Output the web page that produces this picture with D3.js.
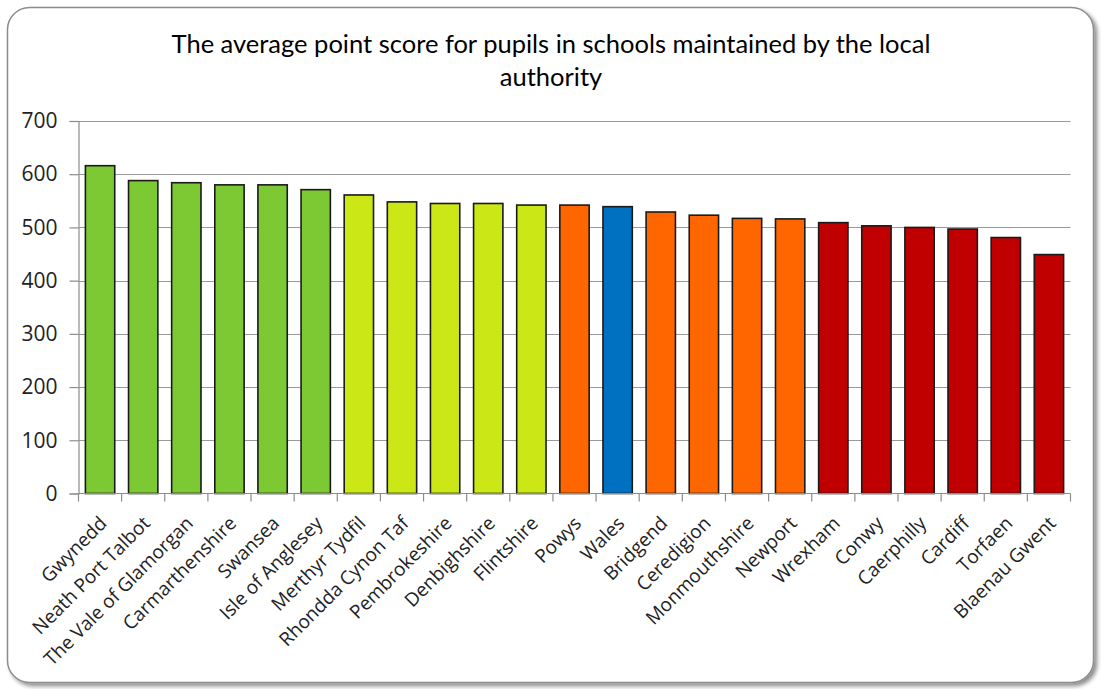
<!DOCTYPE html>
<html>
<head>
<meta charset="utf-8">
<script src="https://cdn.jsdelivr.net/npm/d3@7"></script>
<style>
  html, body { margin: 0; padding: 0; background: #ffffff; }
  svg { display: block; }
</style>
</head>
<body>
<svg id="chart" width="1101" height="689"></svg>
<script>
const titleLines = ["The average point score for pupils in schools maintained by the local", "authority"];
const categories = ["Gwynedd", "Neath Port Talbot", "The Vale of Glamorgan", "Carmarthenshire", "Swansea",
  "Isle of Anglesey", "Merthyr Tydfil", "Rhondda Cynon Taf", "Pembrokeshire", "Denbighshire", "Flintshire",
  "Powys", "Wales", "Bridgend", "Ceredigion", "Monmouthshire", "Newport", "Wrexham", "Conwy", "Caerphilly",
  "Cardiff", "Torfaen", "Blaenau Gwent"];
const values = [616, 588, 584, 580, 580, 571, 561, 548, 545, 545, 542,
  542, 539, 529, 523, 517, 516, 509, 503, 500, 497, 481, 449];
const groups = ["top", "top", "top", "top", "top", "top", "upper", "upper", "upper", "upper", "upper",
  "mid", "avg", "mid", "mid", "mid", "mid", "low", "low", "low", "low", "low", "low"];
const groupNames = ["top", "upper", "mid", "avg", "low"];
const groupColors = ["#7dc934", "#cbe716", "#ff6600", "#0070c0", "#c00000"];
const yTicks = [0, 100, 200, 300, 400, 500, 600, 700];

const svg = d3.select("#chart");

// drop shadow
const defs = svg.append("defs");
const f = defs.append("filter").attr("id", "shadow").attr("x", "-5%").attr("y", "-5%").attr("width", "110%").attr("height", "110%");
f.append("feGaussianBlur").attr("in", "SourceAlpha").attr("stdDeviation", 2).attr("result", "b");
f.append("feOffset").attr("in", "b").attr("dx", 3).attr("dy", 3).attr("result", "o");
f.append("feComponentTransfer").attr("in", "o").attr("result", "o2")
  .append("feFuncA").attr("type", "linear").attr("slope", 0.45);
const fm = f.append("feMerge");
fm.append("feMergeNode").attr("in", "o2");
fm.append("feMergeNode").attr("in", "SourceGraphic");

svg.append("rect")
  .attr("x", 7.5).attr("y", 7.5).attr("width", 1086).attr("height", 675)
  .attr("rx", 22).attr("ry", 22)
  .attr("fill", "#ffffff").attr("stroke", "#8c8c8c").attr("stroke-width", 1.5)
  .attr("filter", "url(#shadow)");

const margin = { left: 78.5, right: 1070.5, top: 121, bottom: 493.5 };

const x = d3.scaleBand().domain(categories).range([margin.left, margin.right])
  .paddingInner(0.32).paddingOuter(0.16);
const y = d3.scaleLinear().domain([0, 700]).range([margin.bottom, margin.top]);
const color = d3.scaleOrdinal().domain(groupNames).range(groupColors);

// title
svg.append("g").selectAll("text").data(titleLines).join("text")
  .attr("x", 551).attr("y", (d, i) => 53 + i * 33)
  .attr("text-anchor", "middle")
  .attr("font-family", "Lato, sans-serif")
  .attr("font-size", 25.5)
  .attr("fill", "#000")
  .text(d => d);

// gridlines
svg.append("g").selectAll("line").data(yTicks.filter(t => t > 0)).join("line")
  .attr("x1", margin.left).attr("x2", margin.right)
  .attr("y1", d => Math.round(y(d)) + 0.5).attr("y2", d => Math.round(y(d)) + 0.5)
  .attr("stroke", "#9a9a9a").attr("stroke-width", 1.2);

// y axis
const yAxis = svg.append("g").attr("transform", `translate(${margin.left},0)`)
  .call(d3.axisLeft(y).tickValues(yTicks).tickSize(9).tickPadding(12));
yAxis.attr("font-family", "'Open Sans', sans-serif").attr("font-size", 21);
yAxis.select(".domain").attr("stroke", "#8c8c8c").attr("stroke-width", 1.2);
yAxis.selectAll(".tick line").attr("stroke", "#8c8c8c").attr("stroke-width", 1.2);
yAxis.selectAll(".tick text").attr("fill", "#222");

// bars
svg.append("g").selectAll("rect").data(categories).join("rect")
  .attr("x", d => x(d)).attr("width", x.bandwidth())
  .attr("y", (d, i) => y(values[i])).attr("height", (d, i) => y(0) - y(values[i]))
  .attr("fill", (d, i) => color(groups[i]))
  .attr("stroke", "#1a1a1a").attr("stroke-width", 1.6);

// x axis
const xAxisG = svg.append("g").attr("transform", `translate(0,${margin.bottom})`);
xAxisG.append("line").attr("x1", margin.left).attr("x2", margin.right).attr("y1", 0).attr("y2", 0)
  .attr("stroke", "#8c8c8c").attr("stroke-width", 1.2);
const bounds = categories.map(c => x(c) - x.step() * x.paddingInner() / 2).concat([margin.right]);
xAxisG.selectAll("line.tk").data(bounds).join("line").attr("class", "tk")
  .attr("x1", d => d).attr("x2", d => d).attr("y1", 0).attr("y2", 8)
  .attr("stroke", "#8c8c8c").attr("stroke-width", 1.2);
xAxisG.selectAll("text").data(categories).join("text")
  .attr("transform", d => `translate(${x(d) + x.bandwidth() / 2 + 8},${31}) rotate(-45)`)
  .attr("text-anchor", "end")
  .attr("font-family", "'Open Sans', sans-serif")
  .attr("font-size", 19)
  .attr("fill", "#222")
  .text(d => d);
</script>
</body>
</html>
